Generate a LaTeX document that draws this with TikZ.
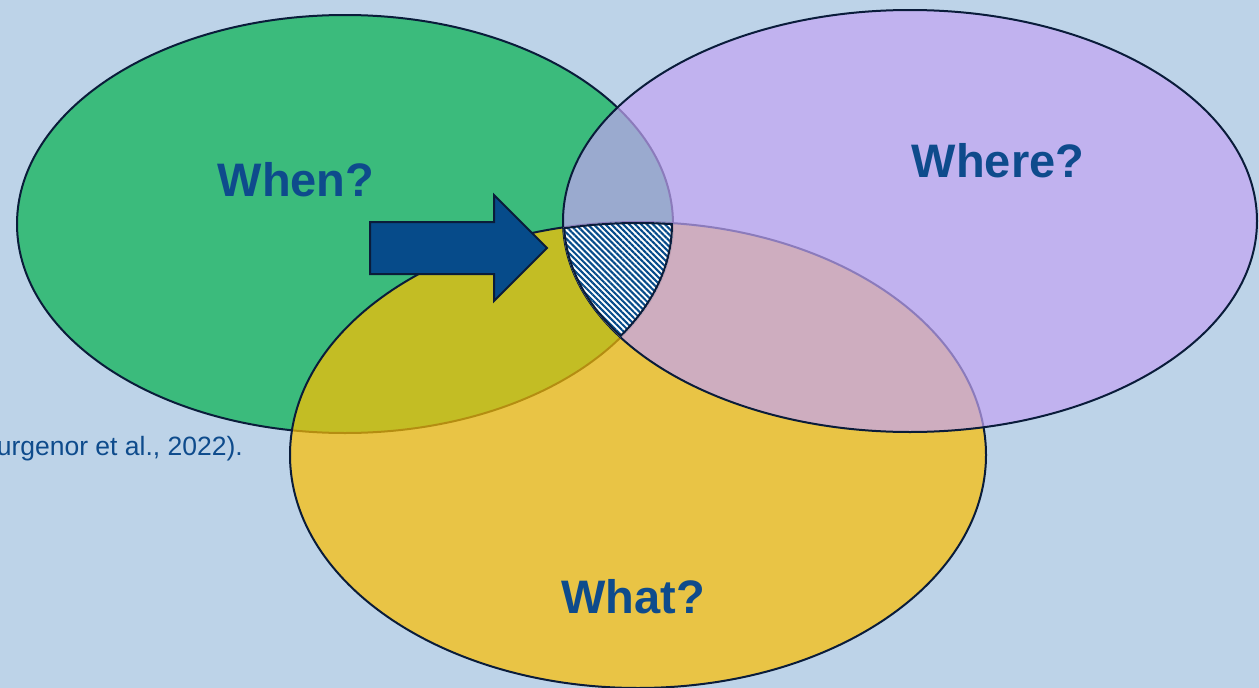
\documentclass[tikz,border=0pt]{standalone}
\usepackage{fontspec}
\setmainfont{Liberation Sans}
\usetikzlibrary{patterns.meta}

\definecolor{bgblue}{RGB}{189,211,232}
\definecolor{whengreen}{RGB}{59,187,124}
\definecolor{wherepurple}{RGB}{195,164,243}
\definecolor{whatyellow}{RGB}{253,190,0}
\definecolor{labelblue}{RGB}{14,75,140}
\definecolor{arrowblue}{RGB}{6,75,138}
\definecolor{rimnavy}{RGB}{10,28,58}

% the three sets
\def\whenset{(345,224) ellipse [x radius=328pt, y radius=209pt]}
\def\whereset{(910,221) ellipse [x radius=347pt, y radius=211pt]}
\def\whatset{(638,455) ellipse [x radius=348pt, y radius=233pt]}

\begin{document}
\begin{tikzpicture}[x=1pt,y=-1pt,
    rim/.style={draw=rimnavy,line width=2pt},
    question/.style={font=\bfseries\fontsize{47}{50}\selectfont,text=labelblue,anchor=base,inner sep=0pt}]
    % Frame
    \clip (0,0) rectangle (1259,688);
    \fill[bgblue] (0,0) rectangle (1259,688);

    % Sets
    \filldraw[rim,fill=whengreen] \whenset;
    \filldraw[rim,fill=whatyellow,fill opacity=0.7] \whatset;
    \filldraw[rim,fill=wherepurple,fill opacity=0.7] \whereset;

    % Common part
    \begin{scope}
        \clip \whenset;
        \clip \whereset;
        \clip \whatset;
        \fill[white] \whatset;
        \fill[pattern={Lines[angle=-45,distance=4.2pt,line width=2.1pt]},pattern color=arrowblue] \whatset;
        \draw[draw=rimnavy,line width=4pt] \whenset \whereset \whatset;
    \end{scope}

    % Arrow
    \filldraw[rim,fill=arrowblue] (370,222) -- (494,222) -- (494,195) -- (547,248)
        -- (494,301) -- (494,274) -- (370,274) -- cycle;

    % Labels
    \node[question] (when) at (296,196) {When?};
    \node[question] (where) at (998,177) {Where?};
    \node[question] (what) at (633,613) {What?};
    \node[font=\fontsize{26.5}{30}\selectfont,text=labelblue,anchor=base east,inner sep=0pt] (cite) at (243,455) {urgenor et al., 2022).};
\end{tikzpicture}
\end{document}
